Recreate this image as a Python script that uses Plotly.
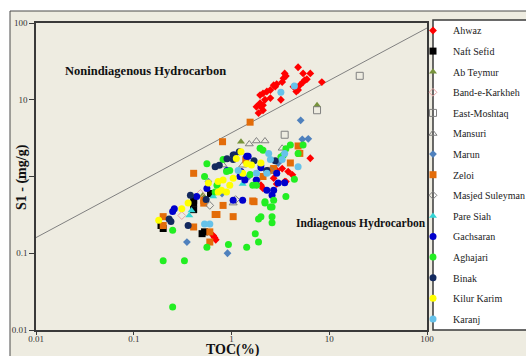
import plotly.graph_objects as go

# TOC (%) vs S1 (mg/g) for each field
ahwaz_toc = [4.8, 5.4, 6.4, 3.5, 3.6, 3.4, 3.3, 2.9, 2.8, 2.7, 2.5, 2.3, 2.1, 1.96, 2.2, 2.0, 2.1,
             2.5, 3.2, 4.3, 4.6, 4.8, 5.0, 5.4, 5.6, 5.9, 8.4, 1.8, 1.96, 2.1, 1.89,
             6.4, 3.5, 3.8, 3.3, 2.7, 2.1, 2.0, 3.6, 2.9, 2.9, 4.2, 0.65, 0.67, 0.69]
ahwaz_s1 = [26.5, 22, 22, 22, 20.4, 19, 17, 16, 14.8, 15.5, 13.4, 12.8, 12.1, 11.5, 10, 8.1, 7.3,
            10.5, 10, 14.8, 12.8, 13.4, 15.5, 17, 18, 18.5, 17, 8.1, 9, 8.5, 6.7,
            1.73, 0.86, 1.16, 1.27, 0.95, 0.70, 0.77, 0.86, 0.8, 1.2, 1.05, 0.17, 0.16, 0.15]

naft_toc = [0.19, 0.2, 0.41, 0.41, 0.5, 0.53, 0.61, 0.41]
naft_s1 = [0.23, 0.21, 0.37, 0.45, 0.18, 0.19, 0.6, 0.49]

abteymur_toc = [1.25, 7.5, 0.51]
abteymur_s1 = [2.84, 8.5, 0.57]

karkheh_toc = [0.31, 0.48]
karkheh_s1 = [0.31, 0.6]

moshtaq_toc = [20.5, 7.5, 3.5]
moshtaq_s1 = [20.5, 7.3, 3.5]

mansuri_toc = [1.52, 1.8, 2.2, 3.3, 0.82, 1.3, 1.04]
mansuri_s1 = [2.65, 2.9, 2.9, 2.33, 1.41, 1.4, 0.45]

marun_toc = [5.1, 5.3, 6.1, 0.35, 0.91, 0.58, 1.5, 2.0, 0.8, 3.0]
marun_s1 = [5.4, 3.05, 3.1, 0.14, 0.1, 0.86, 1.0, 1.4, 0.6, 1.5]

zeloi_toc = [0.81, 0.41, 0.52, 0.52, 0.68, 0.2, 0.41, 0.71, 0.6, 0.6, 1.04, 0.82, 1.7, 1.65,
             1.55, 4.8, 5.0, 4.0, 2.7, 2.5, 2.1, 1.4, 0.2]
zeloi_s1 = [2.84, 1.1, 0.49, 0.45, 0.32, 0.23, 0.22, 0.32, 0.19, 0.14, 0.3, 0.42, 0.47, 0.48,
            5.1, 2.5, 2.0, 1.5, 1.27, 1.2, 1.0, 1.65, 0.3]

masjed_toc = [0.6, 1.1, 2.5, 1.8]
masjed_s1 = [0.42, 0.5, 1.2, 0.9]

paresiah_toc = [0.39, 0.37, 0.65, 1.3]
paresiah_s1 = [0.36, 0.31, 0.55, 0.8]

gachsaran_toc = [0.26, 0.44, 1.07, 1.48, 1.22, 1.37, 1.8, 1.3, 1.04, 2.9, 2.3, 2.7, 2.6, 3.5,
                 3.0, 1.43, 1.25, 0.25, 0.9, 2.0, 0.56]
gachsaran_s1 = [0.38, 0.55, 1.9, 1.83, 1.0, 0.9, 0.9, 0.49, 0.49, 1.1, 0.66, 0.66, 0.57, 0.83,
                0.82, 1.83, 1.16, 0.35, 1.2, 1.3, 0.7]

aghajari_toc = [0.25, 0.2, 0.33, 0.25, 0.56, 0.93, 1.43, 1.89, 1.75, 1.89, 2.0, 2.6, 2.2, 2.6,
                4.0, 3.6, 3.4, 3.2, 4.8, 5.4, 2.1, 1.55, 1.8, 1.65, 4.4, 3.6, 2.7, 2.2, 2.5,
                0.96, 0.56, 0.53, 0.82, 0.89, 0.68, 0.71, 1.96, 2.6]
aghajari_s1 = [0.2, 0.08, 0.08, 0.02, 0.12, 0.13, 0.12, 0.14, 0.18, 0.28, 0.3, 0.3, 0.45, 0.4,
               2.57, 2.3, 1.9, 1.8, 2.0, 2.57, 2.2, 1.06, 0.77, 0.77, 0.92, 0.55, 0.49, 0.47, 0.4,
               1.2, 1.47, 1.0, 1.66, 1.16, 0.63, 0.77, 2.33, 0.25]

binak_toc = [0.23, 0.24, 0.36, 0.38, 1.04, 1.04, 0.68, 1.7, 2.3, 0.9, 0.75, 1.2, 2.8, 0.55]
binak_s1 = [0.28, 0.26, 0.23, 0.57, 1.9, 1.66, 1.34, 1.6, 1.2, 1.7, 1.4, 2.1, 1.6, 0.5]

kilur_toc = [0.18, 0.31, 1.25, 1.43, 1.6, 0.82, 0.73, 0.89, 0.36, 1.12, 1.04, 0.96, 0.73, 0.79,
             0.58, 2.0, 1.3]
kilur_s1 = [0.27, 0.38, 2.1, 1.47, 1.41, 0.9, 0.63, 0.63, 0.45, 1.71, 0.95, 0.77, 0.86, 0.66,
            0.82, 1.5, 1.1]

karanj_toc = [3.2, 4.4, 2.4, 2.5, 3.3, 1.8, 4.8, 0.53, 0.6, 3.5, 2.3, 1.17]
karanj_s1 = [12.5, 15.1, 2.0, 1.66, 1.66, 1.1, 1.34, 0.24, 0.24, 2.0, 1.1, 1.2]

# Boundary between indigenous and non-indigenous hydrocarbons
boundary_toc = [0.01, 100]
boundary_s1 = [0.16, 86]

tick_vals = [0.01, 0.1, 1, 10, 100]
tick_text = ["0.01", "0.1", "1", "10", "100"]

series = [
    ("Ahwaz", ahwaz_toc, ahwaz_s1, "diamond", "#FF0000"),
    ("Naft Sefid", naft_toc, naft_s1, "square", "#000000"),
    ("Ab Teymur", abteymur_toc, abteymur_s1, "triangle-up", "#77933C"),
    ("Band-e-Karkheh", karkheh_toc, karkheh_s1, "diamond-open", "#E6A3A3"),
    ("East-Moshtaq", moshtaq_toc, moshtaq_s1, "square-open", "#808080"),
    ("Mansuri", mansuri_toc, mansuri_s1, "triangle-up-open", "#808080"),
    ("Marun", marun_toc, marun_s1, "diamond", "#4F81BD"),
    ("Zeloi", zeloi_toc, zeloi_s1, "square", "#E36C09"),
    ("Masjed Suleyman", masjed_toc, masjed_s1, "diamond-open", "#7F7F7F"),
    ("Pare Siah", paresiah_toc, paresiah_s1, "triangle-up", "#33D6D6"),
    ("Gachsaran", gachsaran_toc, gachsaran_s1, "circle", "#0000CC"),
    ("Aghajari", aghajari_toc, aghajari_s1, "circle", "#22EE22"),
    ("Binak", binak_toc, binak_s1, "circle", "#13295E"),
    ("Kilur Karim", kilur_toc, kilur_s1, "circle", "#FFFF00"),
    ("Karanj", karanj_toc, karanj_s1, "circle", "#66C2EA"),
]

SERIF = "Liberation Serif"

fig = go.Figure()

fig.add_trace(go.Scatter(
    x=boundary_toc, y=boundary_s1, mode="lines",
    line=dict(color="#808080", width=1), showlegend=False, hoverinfo="skip"))

for name, xs, ys, sym, col in series:
    size = 6 if "diamond" in sym else 7
    fig.add_trace(go.Scatter(
        x=xs, y=ys, mode="markers", name=name, legendgroup=name,
        marker=dict(symbol=sym, color=col, size=size,
                    line=dict(width=1 if "open" in sym else 0, color=col))))

# plot area: x 36..427 px, y 23..330 px
L, R, T, B = 36, 427, 23, 330
W, H = R - L, B - T


def px(xp):
    return (xp - L) / W


def py(yp):
    return (B - yp) / H


axis_common = dict(type="log", range=[-2, 2], showgrid=False, zeroline=False,
                   showline=True, linecolor="#3a3a3a", linewidth=1.5, mirror=True,
                   ticks="outside", ticklen=5, tickcolor="#3a3a3a", tickwidth=1,
                   tickvals=tick_vals, ticktext=tick_text,
                   tickfont=dict(family=SERIF, size=9, color="#333333"))

fig.update_layout(
    width=526, height=356,
    margin=dict(l=L, r=526 - R, t=T, b=356 - B, autoexpand=False),
    paper_bgcolor="white", plot_bgcolor="white",
    xaxis=dict(axis_common, ticklen=3, ticklabelstandoff=-4),
    yaxis=axis_common,
    showlegend=True,
    legend=dict(x=px(413), xanchor="left", y=py(16), yanchor="top",
                bgcolor="rgba(0,0,0,0)", borderwidth=0,
                font=dict(family=SERIF, size=10, color="#222222"),
                tracegroupgap=1.6, maxheight=400),
    shapes=[
        # chart frame
        dict(type="rect", xref="paper", yref="paper", layer="below",
             x0=px(10), x1=px(560), y0=py(380), y1=py(11),
             fillcolor="#EEECE1", line=dict(color="#4a4a4a", width=1)),
        # legend box
        dict(type="rect", xref="paper", yref="paper", layer="below",
             x0=px(433), x1=px(560), y0=py(330), y1=py(20),
             fillcolor="white", line=dict(color="#3a3a3a", width=1.5)),
    ],
    annotations=[
        dict(text="<b>Nonindiagenous Hydrocarbon</b>", xref="paper", yref="paper",
             x=px(63), y=py(71), xanchor="left", yanchor="middle", showarrow=False,
             font=dict(family=SERIF, size=12.5, color="#111111")),
        dict(text="<b>Indiagenous Hydrocarbon</b>", xref="paper", yref="paper",
             x=px(428), y=py(223), xanchor="right", yanchor="middle", showarrow=False,
             font=dict(family=SERIF, size=11.5, color="#111111")),
        dict(text="<b>TOC(%)</b>", xref="paper", yref="paper",
             x=px(233), y=py(350), xanchor="center", yanchor="middle", showarrow=False,
             font=dict(family=SERIF, size=14, color="#111111")),
        dict(text="<b>S1 - (mg/g)</b>", xref="paper", yref="paper", textangle=-90,
             x=px(22), y=py(177), xanchor="center", yanchor="middle", showarrow=False,
             font=dict(family=SERIF, size=14, color="#111111")),
    ],
)

fig.write_html("out.html")
